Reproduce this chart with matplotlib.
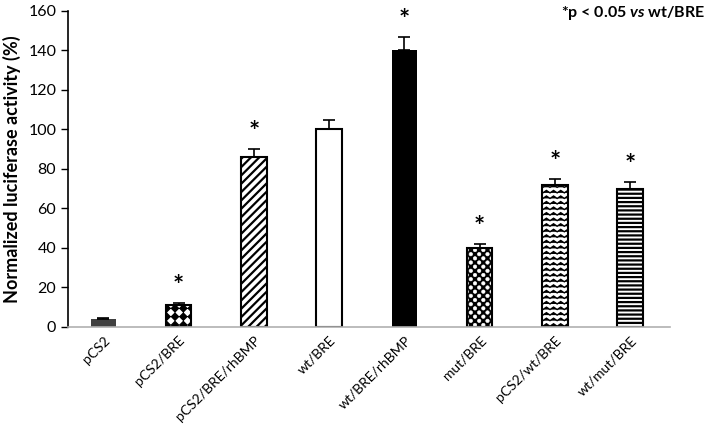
import numpy as np
import matplotlib
matplotlib.use("Agg")
import matplotlib.pyplot as plt
from matplotlib import hatch as mhatch
from matplotlib.path import Path

# data
categories = ["pCS2", "pCS2/BRE", "pCS2/BRE/rhBMP", "wt/BRE", "wt/BRE/rhBMP",
              "mut/BRE", "pCS2/wt/BRE", "wt/mut/BRE"]
values = [4, 11, 86, 100, 140, 40, 72, 70]
errors = [0.6, 1.2, 4, 5, 7, 2, 3, 3.5]
significant = [False, True, True, False, True, True, True, True]
yticks = [0, 20, 40, 60, 80, 100, 120, 140, 160]


# --- a few extra hatch shapes (zigzag, filled diamonds, big dots) ---
class ZigZag(mhatch.HatchPatternBase):
    def __init__(self, hatch, density):
        self.num_lines = int(hatch.count('|') * density)
        self.npts = 2 * 14 + 1
        self.num_vertices = self.num_lines * self.npts

    def set_vertices_and_codes(self, vertices, codes):
        step = 1.0 / self.num_lines if self.num_lines else 1
        xs = np.linspace(0, 1, self.npts)
        amp = np.where(np.arange(self.npts) % 2 == 0, -0.22, 0.22) * step
        for i in range(self.num_lines):
            sl = slice(i * self.npts, (i + 1) * self.npts)
            vertices[sl, 0] = xs
            vertices[sl, 1] = (i + 0.5) * step + amp
            codes[sl] = Path.LINETO
            codes[i * self.npts] = Path.MOVETO


class Diamonds(mhatch.HatchPatternBase):
    def __init__(self, hatch, density):
        self.n = int(hatch.count('*') * density)
        self.num_vertices = 5 * (self.n + 1) ** 2 if self.n else 0

    def set_vertices_and_codes(self, vertices, codes):
        n = self.n
        r = 0.42 / n
        shape = np.array([[0, -r], [r, 0], [0, r], [-r, 0], [0, -r]])
        scode = [Path.MOVETO, Path.LINETO, Path.LINETO, Path.LINETO, Path.CLOSEPOLY]
        centers = [(i / n, j / n) for i in range(n + 1) for j in range(n + 1)]
        for k, (cx, cy) in enumerate(centers):
            vertices[5 * k:5 * k + 5] = shape + [cx, cy]
            codes[5 * k:5 * k + 5] = scode


class BigDots(mhatch.HatchPatternBase):
    def __init__(self, hatch, density):
        self.n = int(hatch.count('o') * density)
        self.circ = Path.unit_circle()
        m = len(self.circ.vertices)
        self.num_vertices = m * ((self.n + 1) ** 2 + self.n ** 2) if self.n else 0

    def set_vertices_and_codes(self, vertices, codes):
        n = self.n
        m = len(self.circ.vertices)
        shape = self.circ.vertices * (0.21 / n)
        centers = [(i / n, j / n) for i in range(n + 1) for j in range(n + 1)]
        centers += [((i + 0.5) / n, (j + 0.5) / n) for i in range(n) for j in range(n)]
        for k, (cx, cy) in enumerate(centers):
            vertices[m * k:m * k + m] = shape + [cx, cy]
            codes[m * k:m * k + m] = self.circ.codes


swap = {mhatch.VerticalHatch: ZigZag, mhatch.Stars: Diamonds, mhatch.SmallCircles: BigDots}
mhatch._hatch_types = [swap.get(t, t) for t in mhatch._hatch_types]

plt.rcParams['font.family'] = ['Lato', 'DejaVu Sans']
plt.rcParams['mathtext.fontset'] = 'custom'
plt.rcParams['mathtext.it'] = 'Lato:italic:bold'
plt.rcParams['mathtext.rm'] = 'Lato:bold'
plt.rcParams['hatch.linewidth'] = 1.4

fig = plt.figure(figsize=(7.12, 4.26), dpi=100)
ax = fig.add_axes([0.0955, 0.2324, 0.8455, 0.7418])

x = np.arange(len(categories))
w = 0.34
styles = [
    dict(color='#404040'),
    dict(facecolor='white', edgecolor='black', hatch='**'),
    dict(facecolor='white', edgecolor='black', hatch='////'),
    dict(facecolor='white', edgecolor='black'),
    dict(facecolor='black', edgecolor='black'),
    dict(facecolor='black', edgecolor='white', hatch='oo'),
    dict(facecolor='white', edgecolor='black', hatch='|||'),
    dict(facecolor='white', edgecolor='black', hatch='----'),
]
hatch_lw = [1.4, 1.0, 1.6, 1.4, 1.4, 0.4, 1.0, 1.6]
for i, st in enumerate(styles):
    bars = ax.bar(x[i], values[i], width=w,
                  linewidth=1.5 if 'hatch' in st or i == 3 else 0, **st)
    for b in bars:
        if hasattr(b, 'set_hatch_linewidth'):
            b.set_hatch_linewidth(hatch_lw[i])
    if st.get('edgecolor') == 'white':
        ax.bar(x[i], values[i], width=w, facecolor='none', edgecolor='black', linewidth=1.5)

ax.errorbar(x, values, yerr=[np.zeros(len(values)), errors], fmt='none',
            ecolor='black', elinewidth=1.2, capsize=4, capthick=1.2)

for xi, v, e, s in zip(x, values, errors, significant):
    if s:
        ax.text(xi, v + e + 2.5, '*', ha='center', va='bottom', fontsize=19,
                fontweight='bold')

ax.set_xlim(-0.47, 7.53)
ax.set_ylim(0, 160)
ax.set_yticks(yticks)
ax.tick_params(axis='y', labelsize=11.5, length=5, width=1, direction='out')
ax.set_xticks(x)
ax.set_xticklabels(categories, rotation=45, ha='right', rotation_mode='anchor',
                   fontsize=10)
ax.tick_params(axis='x', length=0, pad=5)
ax.set_ylabel('Normalized luciferase activity (%)', fontsize=13, fontweight='bold',
              labelpad=5)

for side in ['top', 'right']:
    ax.spines[side].set_visible(False)
ax.spines['left'].set_linewidth(1.2)
ax.spines['bottom'].set_color('#b0b0b0')
ax.spines['bottom'].set_linewidth(1.2)

fig.text(0.99, 0.97, r'*p < 0.05 $\it{vs}$ wt/BRE', ha='right', va='center',
         fontsize=11.5, fontweight='bold')

fig.savefig('out.png', dpi=100)
